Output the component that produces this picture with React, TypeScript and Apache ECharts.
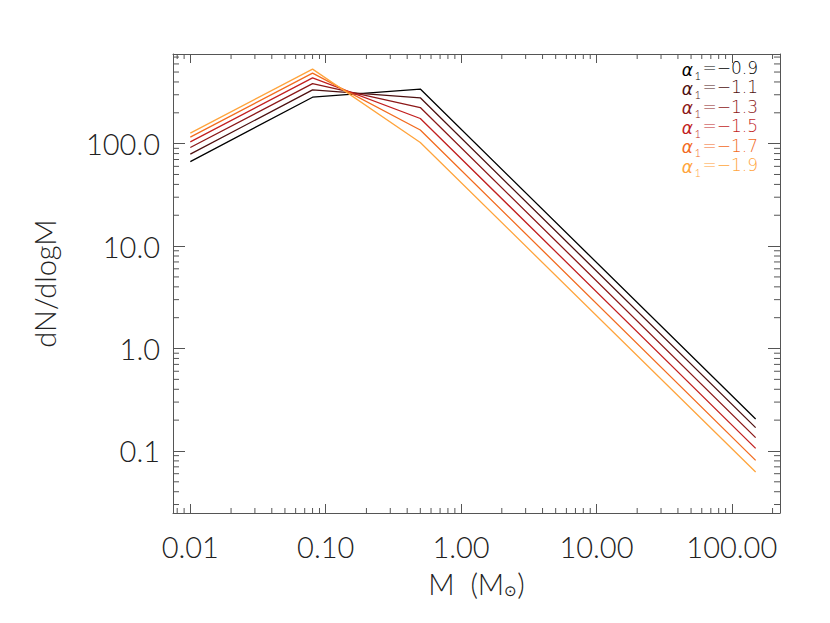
import React, { useEffect, useRef } from 'react';
import * as echarts from 'echarts';

// Mass breakpoints (M_sun)
const masses = [0.01, 0.08, 0.5, 150];
// dN/dlogM for each alpha_1
const alphaLabels = ['−0.9', '−1.1', '−1.3', '−1.5', '−1.7', '−1.9'];
const valsA09 = [66.8, 284, 341, 0.205];
const valsA11 = [78.9, 335, 280, 0.169];
const valsA13 = [91.6, 386, 225, 0.135];
const valsA15 = [104, 439, 176, 0.106];
const valsA17 = [115.7, 488, 136, 0.081];
const valsA19 = [126.6, 534, 102.5, 0.0624];
const allVals = [valsA09, valsA11, valsA13, valsA15, valsA17, valsA19];
const lineColors = ['#000000', '#4d1010', '#8c1818', '#c21f1f', '#f26b1f', '#ffa43c'];

const X_MIN = 0.00745;
const X_MAX = 227;
const Y_MIN = 0.0248;
const Y_MAX = 750;

const FONT = 'Lato';
const AX = '#555555';

function minorTicks(lo: number, hi: number): number[] {
  const out: number[] = [];
  for (let d = -4; d <= 4; d++) {
    for (let m = 2; m <= 9; m++) {
      const v = m * Math.pow(10, d);
      if (v > lo && v < hi) out.push(v);
    }
  }
  return out;
}
const xMinor = minorTicks(X_MIN, X_MAX);
const yMinor = minorTicks(Y_MIN, Y_MAX);

export default function App() {
  const ref = useRef<HTMLDivElement>(null);
  useEffect(() => {
    if (!ref.current) return;
    const chart = echarts.init(ref.current, null, { renderer: 'svg' });
    const lineSeries = allVals.map((vals, i) => ({
      type: 'line',
      name: 'a' + i,
      xAxisIndex: 0,
      yAxisIndex: 0,
      data: masses.map((m, j) => [m, vals[j]]),
      symbol: 'none',
      lineStyle: { color: lineColors[i], width: 1.3 },
      silent: true,
    }));
    const xMinorSeries = {
      type: 'custom',
      xAxisIndex: 0,
      yAxisIndex: 0,
      silent: true,
      clip: false,
      data: xMinor.map((v) => [v, Y_MIN]),
      renderItem: (_p: any, api: any) => {
        const v = api.value(0);
        const pb = api.coord([v, Y_MIN]);
        const pt = api.coord([v, Y_MAX]);
        return {
          type: 'group',
          children: [
            { type: 'line', shape: { x1: pb[0], y1: pb[1], x2: pb[0], y2: pb[1] - 5 }, style: { stroke: AX, lineWidth: 1 } },
            { type: 'line', shape: { x1: pt[0], y1: pt[1], x2: pt[0], y2: pt[1] + 5 }, style: { stroke: AX, lineWidth: 1 } },
          ],
        };
      },
    };
    const yMinorSeries = {
      type: 'custom',
      xAxisIndex: 0,
      yAxisIndex: 0,
      silent: true,
      clip: false,
      data: yMinor.map((v) => [X_MIN, v]),
      renderItem: (_p: any, api: any) => {
        const v = api.value(1);
        const pl = api.coord([X_MIN, v]);
        const pr = api.coord([X_MAX, v]);
        return {
          type: 'group',
          children: [
            { type: 'line', shape: { x1: pl[0], y1: pl[1], x2: pl[0] + 6, y2: pl[1] }, style: { stroke: AX, lineWidth: 1 } },
            { type: 'line', shape: { x1: pr[0], y1: pr[1], x2: pr[0] - 6, y2: pr[1] }, style: { stroke: AX, lineWidth: 1 } },
          ],
        };
      },
    };

    const legendTexts: any[] = [];
    alphaLabels.forEach((lbl, i) => {
      const y = 68 + 19.4 * i;
      const c = lineColors[i];
      legendTexts.push({
        type: 'text',
        x: 693,
        y: y + 1.5,
        style: {
          text: 'α',
          align: 'right',
          verticalAlign: 'middle',
          fontFamily: 'DejaVu Sans',
          fontStyle: 'italic',
          fontWeight: 200,
          fontSize: 17,
          lineHeight: 14,
          fill: c,
        },
      });
      legendTexts.push({
        type: 'text',
        x: 701,
        y: y + 7,
        style: {
          text: '1',
          align: 'right',
          verticalAlign: 'middle',
          fontFamily: 'Lato',
          fontWeight: 300,
          fontSize: 11,
          lineHeight: 10,
          fill: c,
        },
      });
      legendTexts.push({
        type: 'text',
        x: 758,
        y: y,
        style: {
          text: '=' + lbl,
          align: 'right',
          verticalAlign: 'middle',
          fontFamily: 'DejaVu Sans',
          fontWeight: 200,
          fontSize: 17,
          lineHeight: 16,
          fill: c,
        },
      });
    });

    const axisCommon = {
      type: 'log',
      logBase: 10,
      splitLine: { show: false },
      axisLine: { show: true, lineStyle: { color: AX, width: 1 } },
    };

    chart.setOption({
      animation: false,
      backgroundColor: '#ffffff',
      grid: { left: 173, right: 50, top: 54, bottom: 110, containLabel: false },
      xAxis: [
        {
          ...axisCommon,
          position: 'bottom',
          min: X_MIN,
          max: X_MAX,
          axisTick: { show: true, inside: true, length: 9, lineStyle: { color: AX } },
          axisLabel: {
            show: true,
            margin: 19,
            showMinLabel: false,
            showMaxLabel: false,
            fontFamily: FONT,
            fontWeight: 300,
            fontSize: 29,
            color: '#222',
            formatter: (v: number) => Number(v).toFixed(2),
          },
          name: 'M  (M{s|⊙})',
          nameLocation: 'middle',
          nameGap: 56,
          nameTextStyle: {
            fontFamily: FONT,
            fontWeight: 300,
            fontSize: 29,
            color: '#222',
            rich: {
              s: { fontFamily: 'DejaVu Sans', fontSize: 15, color: '#222', verticalAlign: 'bottom', lineHeight: 14 },
            },
          },
        },
        {
          ...axisCommon,
          position: 'top',
          min: X_MIN,
          max: X_MAX,
          axisTick: { show: true, inside: true, length: 9, lineStyle: { color: AX } },
          axisLabel: { show: false },
        },
      ],
      yAxis: [
        {
          ...axisCommon,
          position: 'left',
          min: Y_MIN,
          max: Y_MAX,
          axisTick: { show: true, inside: true, length: 12, lineStyle: { color: AX } },
          axisLabel: {
            show: true,
            margin: 13,
            showMinLabel: false,
            showMaxLabel: false,
            fontFamily: FONT,
            fontWeight: 300,
            fontSize: 29,
            color: '#222',
            formatter: (v: number) => Number(v).toFixed(1),
          },
          name: 'dN/dlogM',
          nameLocation: 'middle',
          nameGap: 114,
          nameTextStyle: { fontFamily: FONT, fontWeight: 300, fontSize: 29, color: '#222' },
        },
        {
          ...axisCommon,
          position: 'right',
          min: Y_MIN,
          max: Y_MAX,
          axisTick: { show: true, inside: true, length: 12, lineStyle: { color: AX } },
          axisLabel: { show: false },
        },
      ],
      series: [...lineSeries, xMinorSeries, yMinorSeries],
      graphic: legendTexts,
    });
    return () => chart.dispose();
  }, []);
  return (
    <div
      ref={ref}
      style={{ position: 'fixed', left: 0, top: 0, width: 830, height: 623, background: '#fff' }}
    />
  );
}
